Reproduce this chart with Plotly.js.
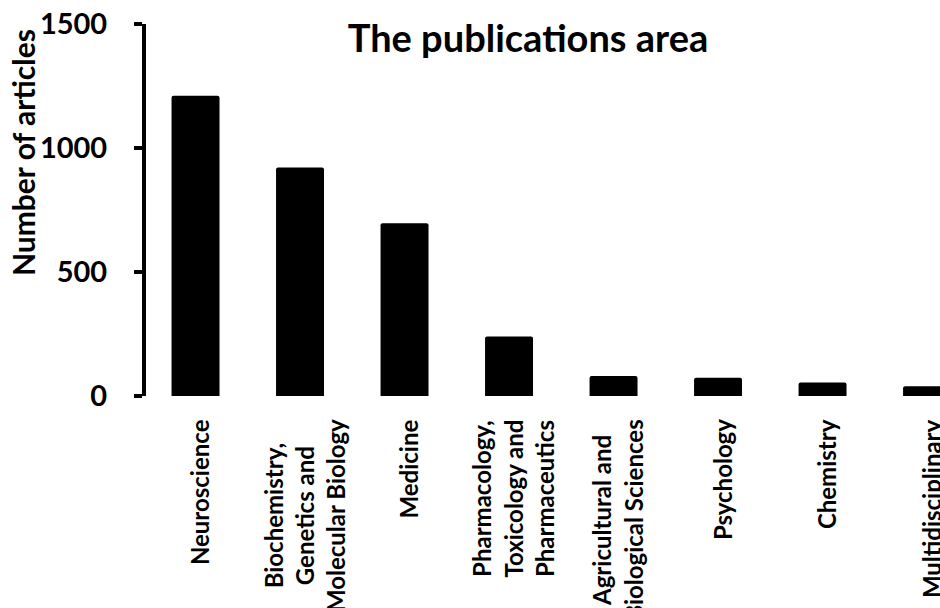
<!DOCTYPE html>
<html>
<head>
<meta charset="utf-8">
<script src="https://cdn.plot.ly/plotly-3.0.1.min.js"></script>
<style>html,body{margin:0;padding:0;background:#fff;}#chart{width:940px;height:608px;}</style>
</head>
<body>
<div id="chart"></div>
<script>
const categories = ["Neuroscience", "Biochemistry, Genetics and Molecular Biology", "Medicine", "Pharmacology, Toxicology and Pharmaceutics", "Agricultural and Biological Sciences", "Psychology", "Chemistry", "Multidisciplinary"];
const categoryLabels = ["Neuroscience", "Biochemistry,<br>Genetics and<br>Molecular Biology", "Medicine", "Pharmacology,<br>Toxicology and<br>Pharmaceutics", "Agricultural and<br>Biological Sciences", "Psychology", "Chemistry", "Multidisciplinary"];
const articles = [1211, 921, 697, 240, 81, 74, 54, 39];
const yTicks = [0, 500, 1000, 1500];
const titleText = "The publications area";
const yTitleText = "Number of articles";

const FONT = "Lato, 'Open Sans', sans-serif";

const trace = {
  type: "bar",
  x: categories,
  y: articles,
  marker: {color: "#000000", line: {width: 0}, cornerradius: 2},
  hoverinfo: "x+y"
};

const annotations = categories.map((c, i) => ({
  x: c, xref: "x",
  y: -0.058, yref: "paper",
  text: categoryLabels[i],
  textangle: -90,
  xanchor: "center", yanchor: "top",
  align: "center",
  showarrow: false,
  xshift: 4,
  font: {family: FONT, size: 24, color: "#000", weight: 700}
}));

annotations.push({
  x: -0.154, xref: "paper",
  y: 0.655, yref: "paper",
  text: yTitleText,
  textangle: -90,
  xanchor: "center", yanchor: "middle",
  showarrow: false,
  font: {family: FONT, size: 30, color: "#000", weight: 700}
});

const layout = {
  width: 940, height: 608,
  margin: {l: 146, r: 0, t: 24, b: 212, pad: 0},
  paper_bgcolor: "#ffffff", plot_bgcolor: "#ffffff",
  showlegend: false,
  bargap: 0.541,
  title: {
    text: titleText,
    x: 528 / 940, xanchor: "center", xref: "container",
    y: 1 - 39 / 608, yanchor: "middle", yref: "container",
    font: {family: FONT, size: 38, color: "#000", weight: 700}
  },
  xaxis: {
    type: "category",
    range: [-0.474, 7.124],
    showticklabels: false,
    ticks: "",
    showline: false,
    showgrid: false,
    zeroline: false
  },
  yaxis: {
    range: [0, 1500],
    tickvals: yTicks,
    ticktext: yTicks.map(String),
    ticks: "outside",
    ticklen: 8,
    tickwidth: 4,
    tickcolor: "#000",
    showline: true,
    linewidth: 4,
    linecolor: "#000",
    showgrid: false,
    zeroline: false,
    ticklabelstandoff: 21,
    tickfont: {family: FONT, size: 29, color: "#000", weight: 700}
  },
  annotations: annotations
};

Plotly.newPlot("chart", [trace], layout, {displayModeBar: false, staticPlot: true});
</script>
</body>
</html>
